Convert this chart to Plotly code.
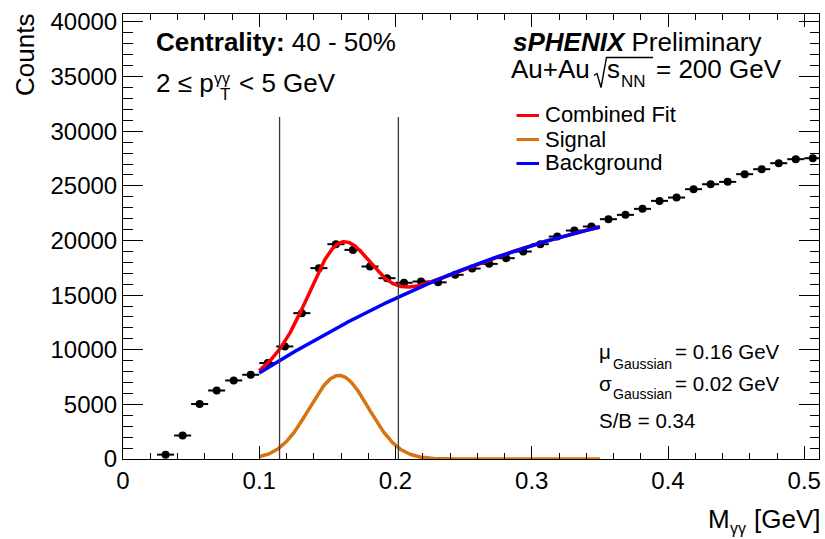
import numpy as np
import plotly.graph_objects as go

# ---- measured diphoton invariant-mass spectrum (bin centres, GeV) ----
mass_gev = [0.03125, 0.04375, 0.05625, 0.06875, 0.08125, 0.09375, 0.10625,
            0.11875, 0.13125, 0.14375, 0.15625, 0.16875, 0.18125, 0.19375,
            0.20625, 0.21875, 0.23125, 0.24375, 0.25625, 0.26875, 0.28125,
            0.29375, 0.30625, 0.31875, 0.33125, 0.34375, 0.35625, 0.36875,
            0.38125, 0.39375, 0.40625, 0.41875, 0.43125, 0.44375, 0.45625,
            0.46875, 0.48125, 0.49375, 0.50625]
counts = [400, 2150, 5030, 6270, 7190, 7710, 8780,
          10300, 13350, 17470, 19660, 19140, 17620, 16550,
          16130, 16245, 16170, 16860, 17430, 17860, 18380,
          18990, 19660, 20360, 20910, 21280, 21950, 22345,
          22895, 23625, 23930, 24695, 25150, 25365, 26070,
          26525, 27075, 27440, 27530]
bin_half_width = [0.00625] * len(mass_gev)

# ---- fit result: Gaussian signal + 2nd-order polynomial background ----
signal_amplitude = 7650.0
signal_mean = 0.1585
signal_sigma = 0.0218
background_coeffs = [-947.0, 98100.0, -99333.0]   # c0 + c1*x + c2*x^2
fit_range = [0.10, 0.35]
window_line_top = 31300

x_fit = np.linspace(fit_range[0], fit_range[1], 500)
signal = signal_amplitude * np.exp(-0.5 * ((x_fit - signal_mean) / signal_sigma) ** 2)
background = (background_coeffs[0] + background_coeffs[1] * x_fit
              + background_coeffs[2] * x_fit ** 2)
combined = signal + background
window = [signal_mean - 2 * signal_sigma, signal_mean + 2 * signal_sigma]

FONT = "Liberation Sans, Arial, Helvetica, sans-serif"
W, H = 825, 539
L, R, T, B = 123, 6, 14, 80
PW, PH = W - L - R, H - T - B


def px(x):
    return (x - L) / PW


def py(y):
    return (H - B - y) / PH


RED, ORANGE, BLUE = "#ff0000", "#d9730f", "#0000ff"

fig = go.Figure()

fig.add_trace(go.Scatter(
    x=mass_gev, y=counts, mode="markers",
    marker=dict(color="black", size=8),
    error_x=dict(type="data", array=bin_half_width, color="black",
                 thickness=2, width=0),
    showlegend=False, cliponaxis=False))

fig.add_trace(go.Scatter(x=x_fit, y=combined, mode="lines",
                         line=dict(color=RED, width=3.5), showlegend=False))
fig.add_trace(go.Scatter(x=x_fit, y=signal, mode="lines",
                         line=dict(color=ORANGE, width=3.5), showlegend=False))
fig.add_trace(go.Scatter(x=x_fit, y=background, mode="lines",
                         line=dict(color=BLUE, width=3.5), showlegend=False))

shapes = []
# integration window lines
for xv in window:
    shapes.append(dict(type="line", xref="x", yref="y", x0=xv, x1=xv,
                       y0=0, y1=window_line_top,
                       line=dict(color="#3a3a3a", width=1.3)))

# legend samples
legend_rows = [("Combined Fit", RED, 115.5), ("Signal", ORANGE, 139.5),
               ("Background", BLUE, 163.5)]
for _, col, yy in legend_rows:
    shapes.append(dict(type="line", xref="paper", yref="paper",
                       x0=px(516.5), x1=px(539), y0=py(yy), y1=py(yy),
                       line=dict(color=col, width=3)))

# square-root sign for sqrt(s_NN)
rad = [(594, 75.5), (597, 73.5), (601, 87.5), (606.5, 57.5), (653, 57.5)]
path = "M " + " L ".join(f"{px(a):.5f},{py(b):.5f}" for a, b in rad)
shapes.append(dict(type="path", xref="paper", yref="paper", path=path,
                   line=dict(color="black", width=1.4)))

annotations = []


def text(s, x, y, size, xanchor="left", angle=0):
    annotations.append(dict(
        text=s, x=px(x), y=py(y), xref="paper", yref="paper",
        xanchor=xanchor, yanchor="middle", showarrow=False,
        textangle=angle, font=dict(family=FONT, size=size, color="black"),
        borderpad=0))


text("<b>Centrality:</b> 40 - 50%", 155, 42, 26)
text("2 ≤ p", 155, 83, 26)
text("γγ", 213, 78, 16)
text("T", 219, 95, 17)
text("< 5 GeV", 238, 83, 26)

text("<b><i>sPHENIX</i></b> Preliminary", 512, 42, 26)
text("Au+Au", 510, 69.2, 26)
text("s", 605.5, 69.2, 26)
text("NN", 620, 81.2, 17)
text("= 200 GeV", 655, 69.2, 26)

for label, _, yy in legend_rows:
    text(label, 544, yy - 0.5, 22)

text("μ", 598, 351.7, 20.5)
text("Gaussian", 612, 363.5, 14)
text("= 0.16 GeV", 674, 351.7, 20.5)
text("σ", 598, 383.3, 20.5)
text("Gaussian", 612, 393.5, 14)
text("= 0.02 GeV", 674, 383.3, 20.5)
text("S/B = 0.34", 598, 420, 20.5)

text("Counts", 25, 55, 26, xanchor="center", angle=-90)
text("M", 707, 519, 26)
text("γγ", 729, 528, 16)
text("[GeV]", 753, 519, 26)

axis_common = dict(
    showline=True, linecolor="black", linewidth=1, mirror="allticks",
    ticks="inside", tickcolor="black", tickwidth=1,
    showgrid=False, zeroline=False,
    tickfont=dict(family=FONT, size=24, color="black"),
)

fig.update_xaxes(range=[0, 0.5108], ticklen=13,
                 tickvals=[0, 0.1, 0.2, 0.3, 0.4, 0.5],
                 ticktext=["0", "0.1", "0.2", "0.3", "0.4", "0.5"],
                 minor=dict(dtick=0.02, tick0=0, ticklen=6, ticks="inside",
                            tickcolor="black", tickwidth=1),
                 **axis_common)
fig.update_yaxes(range=[0, 40730], dtick=5000, tick0=0, ticklen=20,
                 tickformat="d",
                 minor=dict(dtick=1000, tick0=0, ticklen=9.5, ticks="inside",
                            tickcolor="black", tickwidth=1),
                 **axis_common)

fig.update_layout(
    width=W, height=H,
    margin=dict(l=L, r=R, t=T, b=B, autoexpand=False),
    plot_bgcolor="white", paper_bgcolor="white",
    shapes=shapes, annotations=annotations,
    showlegend=False,
)

fig.write_html("out.html")
